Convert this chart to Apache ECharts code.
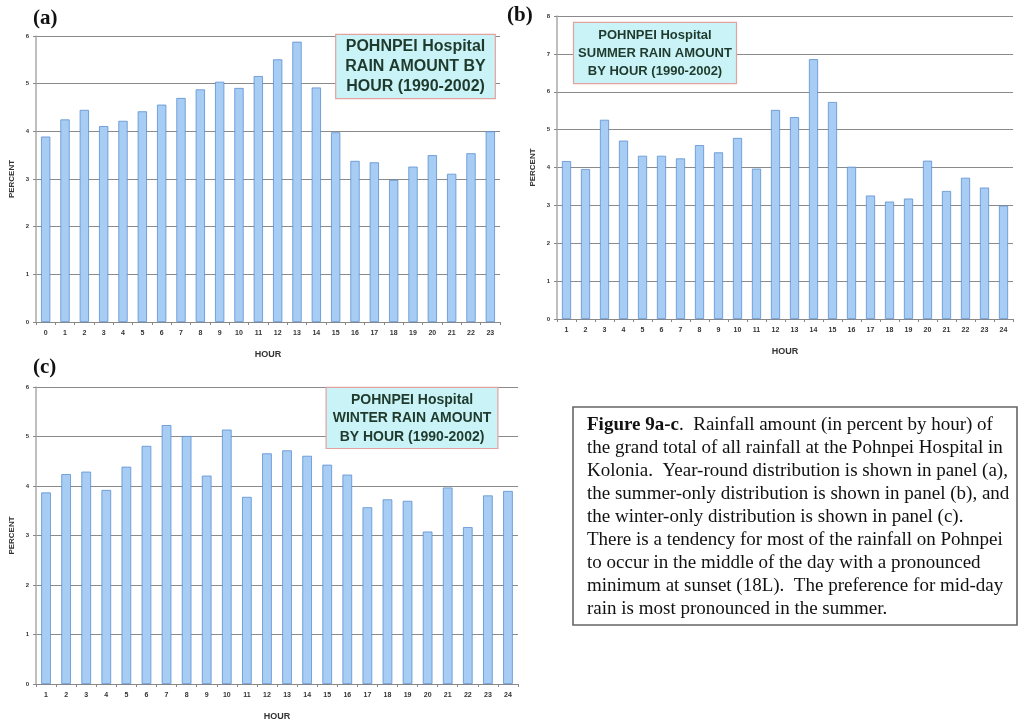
<!DOCTYPE html>
<html>
<head>
<meta charset="utf-8">
<style>
html,body{margin:0;padding:0;background:#fff;}
#chart{width:1021px;height:722px;}
</style>
<script src="https://cdn.jsdelivr.net/npm/echarts@6/dist/echarts.min.js"></script>
</head>
<body>
<div id="chart"></div>
<script>
// ---- data ----
var hoursA = ['0','1','2','3','4','5','6','7','8','9','10','11','12','13','14','15','16','17','18','19','20','21','22','23'];
var hoursBC = ['1','2','3','4','5','6','7','8','9','10','11','12','13','14','15','16','17','18','19','20','21','22','23','24'];
var yearRound = [3.89,4.25,4.45,4.11,4.22,4.42,4.56,4.70,4.88,5.04,4.91,5.16,5.51,5.88,4.92,3.98,3.38,3.35,2.98,3.26,3.50,3.11,3.54,4.00];
var summer = [4.17,3.96,5.26,4.71,4.31,4.31,4.24,4.59,4.40,4.78,3.97,5.52,5.33,6.86,5.73,4.02,3.26,3.10,3.18,4.18,3.38,3.73,3.47,2.99];
var winter = [3.87,4.24,4.29,3.92,4.39,4.81,5.23,5.01,4.21,5.14,3.78,4.66,4.72,4.61,4.43,4.23,3.57,3.73,3.70,3.08,3.97,3.17,3.81,3.90];
var titleA = 'POHNPEI Hospital\nRAIN AMOUNT BY\nHOUR (1990-2002)';
var titleB = 'POHNPEI Hospital\nSUMMER RAIN AMOUNT\nBY HOUR (1990-2002)';
var titleC = 'POHNPEI Hospital\nWINTER RAIN AMOUNT\nBY HOUR (1990-2002)';
var captionLines = [
  'the grand total of all rainfall at the Pohnpei Hospital in',
  'Kolonia.  Year-round distribution is shown in panel (a),',
  'the summer-only distribution is shown in panel (b), and',
  'the winter-only distribution is shown in panel (c).',
  'There is a tendency for most of the rainfall on Pohnpei',
  'to occur in the middle of the day with a pronounced',
  'minimum at sunset (18L).  The preference for mid-day',
  'rain is most pronounced in the summer.'
];

var chart = echarts.init(document.getElementById('chart'), null, {renderer:'canvas'});

var grids = [
  {left:36, top:36, width:464, height:286},
  {left:557, top:16, width:456, height:303},
  {left:36, top:387, width:482, height:299}
];
var ymax = [6, 8, 6];
var cats = [hoursA, hoursBC, hoursBC];
var vals = [yearRound, summer, winter];

function xAx(i){
  return {
    type:'category', gridIndex:i, data:cats[i],
    name:'HOUR', nameLocation:'middle', nameGap:28,
    nameTextStyle:{fontFamily:'Arial, Liberation Sans', fontWeight:'bold', fontSize:9, color:'#333'},
    axisLine:{lineStyle:{color:'#888', width:1}},
    axisTick:{show:true, length:3, lineStyle:{color:'#888'}},
    axisLabel:{fontFamily:'Arial, Liberation Sans', fontWeight:'bold', fontSize:7, color:'#333', margin:8, interval:0}
  };
}
function yAx(i){
  return {
    type:'value', gridIndex:i, min:0, max:ymax[i], interval:1,
    name:'PERCENT', nameLocation:'middle', nameGap:20, nameRotate:90,
    nameTextStyle:{fontFamily:'Arial, Liberation Sans', fontWeight:'bold', fontSize:8, color:'#333'},
    axisLine:{show:true, lineStyle:{color:'#aaa', width:1.5}},
    axisTick:{show:true, length:3, lineStyle:{color:'#888'}},
    axisLabel:{fontFamily:'Arial, Liberation Sans', fontWeight:'bold', fontSize:6, color:'#333', margin:7},
    splitLine:{show:true, lineStyle:{color:'#8a8a8a', width:1}}
  };
}
function ser(i){
  return {
    type:'bar', xAxisIndex:i, yAxisIndex:i, data:vals[i], barWidth:'48%',
    itemStyle:{color:'#a8cdf5', borderColor:'#5b8fd0', borderWidth:0.8},
    silent:true, animation:false
  };
}
function tbox(text, cx, top, size, lh, pad){
  return {
    type:'text', x:cx, y:top, z:10,
    style:{
      text:text, align:'center', verticalAlign:'top',
      fontFamily:'Arial, "Liberation Sans"', fontWeight:'bold', fontSize:size, lineHeight:lh,
      fill:'#1f3a2c',
      backgroundColor:'#c9f3f7', borderColor:'#e2a3a0', borderWidth:1.2,
      padding:pad
    }
  };
}

var serif = '"Liberation Serif", "Times New Roman", serif';
var option = {
  backgroundColor:'#ffffff',
  animation:false,
  grid:grids,
  xAxis:[xAx(0), xAx(1), xAx(2)],
  yAxis:[yAx(0), yAx(1), yAx(2)],
  series:[ser(0), ser(1), ser(2)],
  graphic:[
    tbox(titleA, 415.5, 35, 16, 20, [2,9,1,9]),
    tbox(titleB, 655, 23, 13, 18, [3,4,3,4]),
    tbox(titleC, 412, 388, 14, 18.3, [3,6,2,6]),
    {type:'text', left:33, top:8, style:{text:'(a)', font:'bold 21px ' + serif, fill:'#111'}},
    {type:'text', left:507, top:5, style:{text:'(b)', font:'bold 21px ' + serif, fill:'#111'}},
    {type:'text', left:33, top:357, style:{text:'(c)', font:'bold 21px ' + serif, fill:'#111'}},
    {type:'rect', shape:{x:573, y:407, width:444, height:218}, style:{fill:'#fff', stroke:'#666', lineWidth:1.6}},
    {type:'text', x:587, y:414, style:{
      text:'{b|Figure 9a-c}{r|.  Rainfall amount (in percent by hour) of}\n{r|' + captionLines.join('}\n{r|') + '}',
      rich:{
        b:{fontFamily:serif, fontWeight:'bold', fontSize:19, lineHeight:22.9, fill:'#111'},
        r:{fontFamily:serif, fontSize:19, lineHeight:22.9, fill:'#111'}
      },
      fill:'#111', fontSize:19, lineHeight:22.9
    }}
  ]
};
chart.setOption(option);
</script>
</body>
</html>
